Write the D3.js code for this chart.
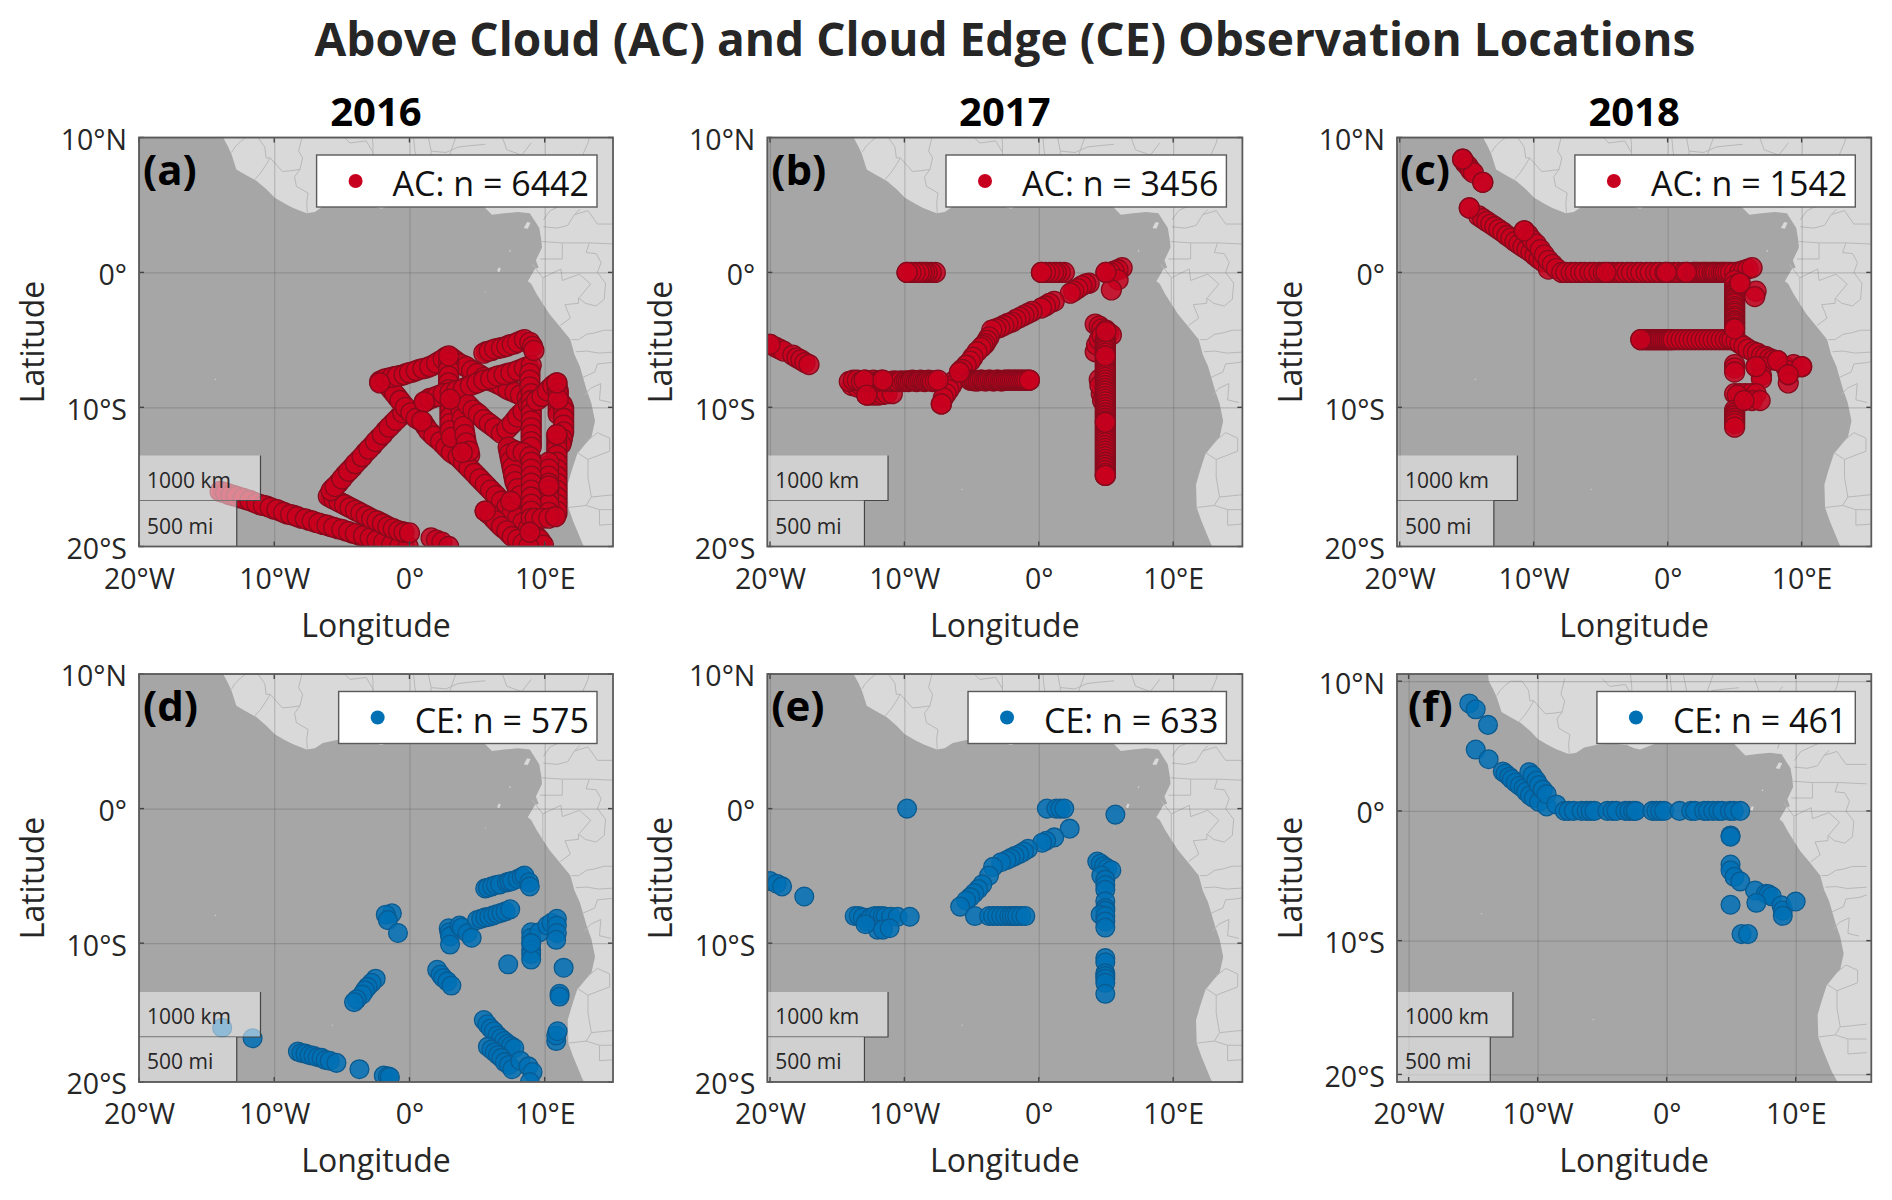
<!DOCTYPE html>
<html>
<head>
<meta charset="utf-8">
<script src="https://cdn.jsdelivr.net/npm/d3@7"></script>
<style>
  body { margin: 0; background: #fff; }
  text { font-family: "Open Sans", sans-serif; fill: #262626; }
  .tick text { font-size: 28.5px; }
  .axislabel { font-size: 32px; }
  .year { font-size: 40px; font-weight: 700; fill: #000; }
  .letter { font-size: 42px; font-weight: 700; fill: #000; }
  .legendtext { font-size: 34px; fill: #111; }
  .scaletext { font-size: 21px; }
</style>
</head>
<body>
<div id="chart"></div>
<script>
const lonTicks = [-20, -10, 0, 10];
const lonLabels = ['20°W', '10°W', '0°', '10°E'];
const latTicks = [10, 0, -10, -20];
const latLabels = ['10°N', '0°', '10°S', '20°S'];

// land outline, closed off outside the map window
const coast = [[-13.9,11],[-13.78,10],[-13.4,9.3],[-13.16,8.76],[-12.8,7.65],[-12.2,7.3],[-11.3,6.8],[-10.6,6.2],[-9.96,5.55],[-9.2,5.1],[-8.6,4.8],[-7.6,4.4],[-7,4.5],[-6.4,4.9],[-5.2,5.15],[-4,5.2],[-3.1,5.1],[-2.5,4.85],[-2.05,4.75],[-1,5.15],[0,5.6],[1.2,6.1],[2.5,6.3],[4,6.4],[4.6,5.95],[5.4,5],[6.1,4.3],[7,4.4],[8,4.5],[8.9,4.4],[9.6,3.3],[9.75,2.4],[9.8,1.85],[9.35,0.9],[9.55,0.35],[9.3,0.3],[8.75,-0.65],[9.0,-0.85],[9.4,-1.6],[10.35,-3.1],[11.1,-4],[11.9,-5],[12.2,-6.1],[12.6,-7],[13.1,-8.7],[13.45,-9.7],[13.72,-11],[13.45,-12.2],[13.07,-12.6],[12.4,-13.4],[12,-14.6],[11.7,-15.6],[11.75,-17.25],[12.1,-18.2],[12.8,-19.8],[13.4,-20.8],[13.8,-21.5],[17,-21.5],[17,11]];
const islands = [
  [[8.45,3.3],[8.7,3.75],[8.95,3.7],[8.75,3.25]],
  [[7.35,1.55],[7.45,1.7],[7.48,1.55]],
  [[6.48,0.1],[6.6,0.38],[6.75,0.3],[6.65,0.02]],
  [[5.58,-1.48],[5.62,-1.38],[5.66,-1.45]],
  [[-14.42,-7.98],[-14.35,-7.88],[-14.28,-7.96]],
  [[-5.76,-16],[-5.7,-15.9],[-5.64,-15.98]]
];
const borders = [
  [[-13.16,8.9],[-12.9,9.3],[-12.5,9.7],[-12.1,10],[-11.2,10],[-10.7,9.3],[-10.6,8.5],[-10.3,8.5]],
  [[-11.44,6.9],[-11,7.4],[-10.6,8],[-10.3,8.5]],
  [[-10.3,8.5],[-9.4,7.5],[-8.8,7.55],[-8.1,7.65]],
  [[-7.55,4.4],[-7.6,5.2],[-7.5,5.9],[-8.36,6.4],[-8.5,7.1],[-8.1,7.65],[-7.9,8.5],[-8.2,9.0],[-7.9,10.2]],
  [[-5,10.2],[-4.4,9.6],[-3.2,9.75],[-2.7,8.9],[-2.6,8]],
  [[-3.1,5.1],[-2.8,5.7],[-3.2,6.8],[-2.7,8],[-2.7,9.5],[-2.8,10.5]],
  [[1.2,6.1],[0.55,6.9],[0.6,8],[0.4,9],[0.26,10.5]],
  [[1.6,6.2],[1.6,7],[1.6,9],[1.3,10.5]],
  [[2.7,6.4],[2.7,7.9],[3.1,9.1],[3.6,10.5]],
  [[1.6,9],[2.7,8.9],[3.6,9.3],[4.5,9.4],[5.6,9.5]],
  [[6.8,10.2],[7.2,9.1],[8.3,8.7],[9,9.6]],
  [[8.6,4.8],[8.9,5.8],[9.8,6.8],[10.6,7],[11.4,6.5],[11.8,7.2],[12.2,8.3],[12.8,8.7],[13.2,9.6],[13.4,10.5]],
  [[9.9,3.4],[10.9,3.3],[11.7,3.5],[12.2,4.3],[12.6,4.7]],
  [[12.2,4.3],[13.2,4.6],[13.9,3.6],[15.5,3.6]],
  [[13.9,5.9],[12.5,5.6],[11.5,5.1],[10.4,4.6],[9.9,3.9]],
  [[9.8,2.3],[11.3,2.2],[13.3,2.2],[15.5,2.1]],
  [[11.3,2.2],[11.3,1],[9.65,1]],
  [[13.3,2.2],[13.06,1.48],[13.8,1.4],[14.17,0.74],[13.9,0],[14.2,-0.4],[14.5,-0.8],[14.4,-2],[13.8,-2.5],[13,-2.3],[12.5,-1.9],[12.5,-2.3],[11.5,-2.4],[11.9,-3.4],[11.15,-3.95]],
  [[9.1,0.6],[9.86,-0.4],[11.2,0.25],[11.3,-0.6],[12.57,-0.13],[13.4,-0.87],[12.57,-1.86]],
  [[9.86,-0.4],[9.86,-2.36]],
  [[12,-5],[12.5,-5],[13.1,-4.6],[13.7,-4.5],[14.4,-4.3],[15.5,-4.3]],
  [[12.3,-5.9],[13.1,-5.85],[14,-6],[15.5,-5.9]],
  [[12.8,-7.8],[13.7,-7.4],[13.9,-6.8],[14.9,-6.7],[15.5,-6.5]],
  [[12.95,-9.1],[13.4,-8.6],[14.15,-8.25],[14.05,-9.45],[14.9,-9.65]],
  [[13.2,-12.4],[13.9,-11.85],[14.8,-12.25],[14.8,-13.2],[13.2,-13.8],[12.4,-13.3]],
  [[13.2,-13.8],[13.2,-15.1],[13.45,-16.5],[13.06,-17.1]],
  [[13.45,-16.5],[15.5,-16.3]],
  [[11.75,-17.25],[13.06,-17.1],[14.05,-17.4],[15.5,-17.4]],
  [[14.05,-17.4],[14.05,-18.5],[15.5,-18.4]]
];

const acPoints2016 = [
  [-13.8,-16.15],[-13.4,-16.3],[-13,-16.4],[-12.55,-16.55],[-12.05,-16.7],[-11.55,-16.85],[-11.05,-17.05],[-10.55,-17.15],[-10.05,-17.35],[-9.55,-17.5],[-9.05,-17.7],[-8.55,-17.8],[-8,-18],[-7.45,-18.15],[-6.95,-18.3],[-6.4,-18.45],[-5.85,-18.6],[-5.3,-18.75],[-4.75,-18.9],[-4.25,-19.05],[-3.7,-19.2],[-3.15,-19.35],[-2.65,-19.5],[-2.15,-19.65],[-1.6,-19.8],[-1,-19.9],[-0.4,-20],
  [-5.8,-16.55],[-5.4,-16.75],[-5,-16.95],[-4.6,-17.15],[-4.2,-17.35],[-3.8,-17.55],[-3.4,-17.75],[-3,-17.95],[-2.6,-18.15],[-2.2,-18.3],[-1.8,-18.5],[-1.4,-18.7],[-1,-18.85],[-0.6,-18.95],
  [-5.65,-15.9],[-5.25,-15.5],[-4.75,-14.9],[-4.25,-14.4],[-3.75,-13.85],[-3.25,-13.3],[-2.75,-12.8],[-2.25,-12.25],[-1.75,-11.7],[-1.25,-11.2],[-0.75,-10.7],[-0.35,-10.25],
  [-1.6,-8.3],[-1.3,-8.75],[-0.9,-9.25],[-0.5,-9.75],[-0.1,-10.2],[0.3,-10.6],[0.75,-10.95],[1.2,-11.4],[1.6,-11.9],[2.05,-12.3],[2.5,-12.7],[2.9,-13.1],[3.35,-13.45],[3.8,-13.8],[4.2,-14.2],[4.6,-14.6],[5,-15],[5.4,-15.4],[5.8,-15.8],[6.2,-16.2],[6.6,-16.6],[7,-17],[7.4,-17.4],[7.8,-17.8],[8.2,-18.15],[8.6,-18.5],[9,-18.9],[9.4,-19.3],[9.75,-19.7],
  [-2,-8],[-1.55,-7.85],[-1.1,-7.75],[-0.65,-7.65],[-0.2,-7.5],[0.25,-7.4],[0.75,-7.2],[1.25,-7.1],[1.75,-6.9],[2.25,-6.6],[2.7,-6.3],
  [3.1,-6.35],[3.5,-6.65],[3.95,-6.9],[4.4,-7.15],[4.8,-7.4],[5.25,-7.65],[5.7,-7.9],[6.15,-8.1],[6.6,-8.3],[7.05,-8.55],[7.55,-8.8],[8,-9],[8.45,-9.2],
  [2.9,-6.45],[2.9,-6.95],[2.9,-7.45],[2.9,-7.95],[2.9,-8.45],[2.95,-8.95],[3,-9.45],[3,-9.95],[3,-10.45],[3,-10.95],[3,-11.45],[3.05,-11.95],
  [3.65,-9.3],[3.75,-9.9],[3.85,-10.5],[3.95,-11.1],[4.05,-11.7],[4.15,-12.3],[4.3,-12.9],[4.45,-13.5],
  [1.3,-9.5],[1.75,-9.3],[2.25,-9.1],[2.75,-8.95],[3.25,-8.8],[3.75,-8.7],[4.25,-8.5],[4.75,-8.3],[5.25,-8.1],[5.75,-7.95],[6.25,-7.8],[6.75,-7.65],[7.25,-7.5],[7.75,-7.4],[8.25,-7.2],[8.75,-7],
  [5.7,-5.9],[6.1,-5.8],[6.55,-5.65],[7,-5.55],[7.4,-5.4],[7.8,-5.3],[8.25,-5.1],
  [4.5,-10],[4.9,-10.35],[5.3,-10.7],[5.7,-11.05],[6.1,-11.35],[6.55,-11.7],[7,-11.75],[7.4,-11.4],[7.8,-10.95],[8.2,-10.5],[8.6,-10.05],[9,-9.6],
  [8.9,-7.25],[8.9,-7.75],[8.9,-8.25],[8.95,-8.75],[9,-9.25],[9,-9.75],[9,-10.25],[9,-10.75],[9,-11.25],[9,-11.75],[9,-12.25],[9,-12.7],
  [9.6,-9.35],[10,-9],[10.4,-8.6],[10.75,-8.3],[11,-8.8],[11,-9.25],[11,-9.75],[11,-10.25],[11.4,-10.05],[11.4,-10.55],[11.4,-11.05],[11.4,-11.55],[11.35,-12.05],[11.25,-12.5],
  [10.9,-12.25],[10.9,-12.75],[10.9,-13.25],[10.9,-13.75],[10.9,-14.25],[10.9,-14.75],[10.9,-15.25],[10.9,-15.75],[10.9,-16.25],[10.9,-16.75],[10.9,-17.25],[10.9,-17.7],
  [10.3,-14.25],[10.3,-14.75],[10.3,-15.25],[10.3,-15.75],[10.3,-16.25],[10.3,-16.75],[10.3,-17.3],[10.3,-17.8],
  [7.35,-13.15],[7.45,-13.65],[7.55,-14.15],[7.65,-14.65],[7.75,-15.15],[7.9,-15.65],[8.1,-16.15],[7.65,-13.1],[8.15,-13.25],[8.65,-13.45],
  [9,-13.8],[9,-14.25],[9,-14.75],[9,-15.25],[9,-15.75],[9,-16.25],[9,-16.75],[9,-17.25],[9,-17.75],
  [5.8,-17.65],[6.2,-18],[6.6,-18.4],[7,-18.75],[7.4,-19.1],[7.8,-19.4],[8.2,-19.65],[8.6,-19.9],
  [-14,-16.1],[-13.6,-16.2],[-13.2,-16.35],[-12.8,-16.45],[-12.3,-16.6],[-11.8,-16.75],[-11.3,-16.95],[-10.8,-17.1],[-10.3,-17.25],[-9.8,-17.4],[-9.3,-17.6],[-8.8,-17.75],[-8.3,-17.9],[-7.7,-18.05],[-7.2,-18.2],[-6.7,-18.35],[-6.1,-18.5],[-5.6,-18.65],[-5,-18.8],[-4.5,-18.95],[-4,-19.1],[-3.4,-19.25],[-2.9,-19.4],[-2.4,-19.55],[-1.9,-19.7],[-1.3,-19.85],[-0.7,-19.95],[-0.1,-20],
  [-6,-16.45],[-5.6,-16.65],[-5.2,-16.85],[-4.8,-17.05],[-4.4,-17.25],[-4,-17.45],[-3.6,-17.65],[-3.2,-17.85],[-2.8,-18.05],[-2.4,-18.2],[-2,-18.4],[-1.6,-18.6],[-1.2,-18.75],[-0.8,-18.9],[-0.4,-19],[0,-19.05],
  [-5.8,-16.05],[-5.5,-15.75],[-5,-15.2],[-4.5,-14.65],[-4,-14.1],[-3.5,-13.6],[-3,-13.05],[-2.5,-12.5],[-2,-12],[-1.5,-11.45],[-1,-10.95],[-0.5,-10.4],[-0.2,-10.1],
  [-1.75,-8.05],[-1.5,-8.5],[-1.1,-9],[-0.7,-9.5],[-0.3,-10],[0.1,-10.4],[0.5,-10.8],[1,-11.1],[1.4,-11.7],[1.8,-12.1],[2.3,-12.5],[2.7,-12.9],[3.1,-13.3],[3.6,-13.6],[4,-14],[4.4,-14.4],[4.8,-14.8],[5.2,-15.2],[5.6,-15.6],[6,-16],[6.4,-16.4],[6.8,-16.8],[7.2,-17.2],[7.6,-17.6],[8,-18],[8.4,-18.3],[8.8,-18.7],[9.2,-19.1],[9.6,-19.5],[9.9,-19.9],
  [-2.2,-8.1],[-1.8,-7.9],[-1.3,-7.8],[-0.9,-7.7],[-0.4,-7.6],[0,-7.45],[0.5,-7.3],[1,-7.15],[1.5,-7],[2,-6.75],[2.5,-6.45],
  [3.3,-6.5],[3.7,-6.8],[4.2,-7],[4.6,-7.3],[5,-7.5],[5.5,-7.8],[5.9,-8],[6.4,-8.2],[6.8,-8.4],[7.3,-8.7],[7.8,-8.9],[8.2,-9.1],[8.7,-9.3],
  [2.9,-6.7],[2.9,-7.2],[2.9,-7.7],[2.9,-8.2],[2.9,-8.7],[3,-9.2],[3,-9.7],[3,-10.2],[3,-10.7],[3,-11.2],[3,-11.7],[3.1,-12.2],
  [3.6,-9],[3.7,-9.6],[3.8,-10.2],[3.9,-10.8],[4,-11.4],[4.1,-12],[4.2,-12.6],[4.4,-13.2],
  [1.1,-9.6],[1.5,-9.35],[2,-9.2],[2.5,-9],[3,-8.9],[3.5,-8.75],[4,-8.6],[4.5,-8.4],[5,-8.2],[5.5,-8],[6,-7.9],[6.5,-7.7],[7,-7.6],[7.5,-7.45],[8,-7.3],[8.5,-7.1],[9,-6.9],
  [5.5,-6],[5.9,-5.85],[6.3,-5.7],[6.8,-5.6],[7.2,-5.5],[7.6,-5.35],[8,-5.2],[8.5,-5],[8.9,-5.2],[9.1,-5.5],[9.2,-5.8],
  [4.3,-9.8],[4.7,-10.2],[5.1,-10.5],[5.5,-10.9],[5.9,-11.2],[6.3,-11.5],[6.8,-11.9],[7.2,-11.6],[7.6,-11.2],[8,-10.7],[8.4,-10.3],[8.8,-9.8],[9.2,-9.4],
  [8.9,-7.5],[8.9,-8],[8.9,-8.5],[9,-9],[9,-9.5],[9,-10],[9,-10.5],[9,-11],[9,-11.5],[9,-12],[9,-12.5],[9,-12.9],
  [9.4,-9.5],[9.8,-9.2],[10.2,-8.8],[10.6,-8.4],[10.9,-8.2],[10.95,-8.6],[11,-9],[11,-9.5],[11,-10],[11,-10.5],[11.3,-9.8],[11.4,-10.3],[11.4,-10.8],[11.4,-11.3],[11.4,-11.8],[11.3,-12.3],[11.2,-12.7],
  [10.9,-12],[10.9,-12.5],[10.9,-13],[10.9,-13.5],[10.9,-14],[10.9,-14.5],[10.9,-15],[10.9,-15.5],[10.9,-16],[10.9,-16.5],[10.9,-17],[10.9,-17.5],
  [10.3,-14],[10.3,-14.5],[10.3,-15],[10.3,-15.5],[10.3,-16],[10.3,-16.5],[10.3,-17],[10.3,-17.6],
  [7.3,-12.9],[7.4,-13.4],[7.5,-13.9],[7.6,-14.4],[7.7,-14.9],[7.8,-15.4],[8,-15.9],[8.2,-16.4],[7.9,-13.2],[8.4,-13.3],[8.9,-13.6],
  [9,-14],[9,-14.5],[9,-15],[9,-15.5],[9,-16],[9,-16.5],[9,-17],[9,-17.5],[9,-18],
  [9.3,-18],[9.8,-18],[10.3,-18],[10.8,-17.9],
  [5.6,-17.5],[6,-17.8],[6.4,-18.2],[6.8,-18.6],[7.2,-18.9],[7.6,-19.3],[8,-19.5],[8.4,-19.8],[8.8,-20],
  [1.6,-19.4],[2,-19.55],[2.4,-19.7],[2.9,-20],
  [-2.2,-8.2],[2.9,-6.2],[1.1,-9.6],[3,-9.4],[7.5,-16.8],[8.9,-19],[5.6,-17.5],[10.3,-15.7],[10.9,-12],[0.9,-11],[3.9,-13.3],[11,-9.4],[10.9,-8.2]
];
const acPoints2017 = [
  [-20,-5.35],[-19.6,-5.55],[-19.3,-5.7],[-19,-5.85],[-18.3,-6.15],[-18,-6.35],[-17.7,-6.5],[-17.4,-6.7],[-17.1,-6.85],
  [-7.7,0],[-8,0],[-8.3,0],[-8.5,0],[-8.7,0],[-8.9,0],[-9.2,0],[-9.5,0],[-9.8,0],
  [1.9,0],[1.6,0],[1.3,0],[1.1,0],[0.8,0],[0.5,0],[0.2,0],
  [6.2,0.35],[5.9,0.2],[5.6,0.1],[5.3,0],[5,0],[5.9,-0.55],[5.4,-1.3],
  [3.75,-0.8],[3.5,-0.85],[3.2,-1],[2.9,-1.2],[2.6,-1.4],[2.35,-1.55],
  [1.15,-2.15],[0.8,-2.3],[0.5,-2.5],[0.2,-2.65],
  [-0.5,-2.9],[-0.8,-3.05],[-1.1,-3.2],[-1.4,-3.35],[-1.7,-3.5],[-2,-3.7],[-2.3,-3.8],[-2.6,-3.95],[-2.9,-4.1],[-3.2,-4.2],[-3.5,-4.3],
  [-3.7,-4.8],[-3.85,-5.05],[-4,-5.3],[-4.15,-5.45],[-4.3,-5.6],[-4.6,-5.9],[-4.9,-6.3],[-5.1,-6.6],[-5.4,-6.9],[-5.7,-7.2],[-5.9,-7.45],
  [-6.35,-8.1],[-6.5,-8.4],[-6.7,-8.7],[-6.9,-9],[-7.1,-9.3],[-7.25,-9.75],
  [-13.9,-8.4],[-13.5,-8.5],[-13.2,-8.4],[-12.8,-9.1],[-12.5,-9.1],[-12.2,-9.1],[-11.9,-9.1],[-11.6,-9.05],[-11.3,-9],[-10.9,-9],
  [-14.1,-8.1],[-13.8,-8],[-13.5,-8],[-13.2,-8.1],[-12.9,-8],[-12.6,-8.1],[-12.3,-8],[-12,-8.1],[-11.7,-8],[-11.4,-8.1],[-11,-8.1],[-10.75,-8.05],[-10.5,-8.1],[-10.25,-8.05],[-10,-8.1],[-9.85,-8.05],[-9.7,-8.1],[-9.55,-8.05],[-9.4,-8],[-9.25,-8.05],[-9.1,-8.1],[-8.95,-8.05],[-8.8,-8],[-8.65,-8.05],[-8.5,-8.1],[-8.35,-8.05],[-8.2,-8],[-8.05,-8.05],[-7.9,-8.1],[-7.7,-8.05],
  [-5.1,-8],[-4.95,-8],[-4.8,-8.05],[-4.65,-8.05],[-4.5,-8.05],[-4.35,-8],[-4.2,-8],[-4.05,-8.05],[-3.9,-8.05],[-3.75,-8],[-3.6,-8],[-3.45,-8.05],[-3.3,-8.05],[-3.15,-8],[-3,-8],[-2.85,-8.05],[-2.7,-8.05],[-2.55,-8],[-2.4,-8],[-2.25,-8],[-2.1,-8],[-1.95,-8],[-1.8,-8],[-1.65,-8],[-1.5,-8],[-1.35,-8],[-1.2,-8],[-1.05,-8],[-0.9,-8],[-0.7,-8],
  [4.2,-3.85],[4.5,-4],[4.7,-4.2],[5,-4.3],[5.2,-4.5],[5.4,-4.65],[4.2,-5.9],[4.3,-5.4],[4.5,-5],[4.7,-4.7],[4.5,-7.95],[4.65,-9],[4.55,-8.4],[4.75,-9.5],
  [4.95,-5],[4.95,-5.2],[4.95,-5.4],[4.95,-5.6],[4.95,-5.8],[4.95,-6],[4.95,-6.2],[4.95,-6.4],[4.95,-6.6],[4.95,-6.8],[4.95,-7],[4.95,-7.2],[4.95,-7.4],[4.95,-7.6],[4.95,-7.8],[4.95,-8],[4.95,-8.2],[4.95,-8.4],[4.95,-8.6],[4.95,-8.8],[4.95,-9],[4.95,-9.2],[4.95,-9.4],[4.95,-9.6],[4.95,-9.8],[4.95,-10],[4.95,-10.2],[4.95,-10.4],[4.95,-10.6],[4.95,-10.8],[4.95,-11],[4.95,-11.2],[4.95,-11.4],[4.95,-11.6],[4.95,-11.8],[4.95,-12],[4.95,-12.2],[4.95,-12.4],[4.95,-12.6],[4.95,-12.8],[4.95,-13],[4.95,-13.2],[4.95,-13.4],[4.95,-13.6],[4.95,-13.8],[4.95,-14],[4.95,-14.2],[4.95,-14.4],[4.95,-14.6],[4.95,-14.8],[4.95,-14.95],
  [-13,-8],[-11.6,-8],[-7.5,-8],[-9.8,0],[0.2,0],[5,0],[4.95,-11.1],[4.95,-6.2],[5,-4.4],[4.95,-14.95],[-5.9,-7.4],[-7.25,-9.75],[-20,-5.35],[-12.8,-9.1],[-0.7,-8]
];
const acPoints2018 = [
  [-15.3,8.4],[-15.1,8.1],[-14.9,7.9],[-14.7,7.6],[-14.5,7.4],[-13.8,6.7],[-14.8,4.8],
  [-14.1,4.2],[-13.8,4],[-13.5,3.8],[-13.2,3.6],[-12.9,3.4],[-12.6,3.2],[-12.3,3],[-12,2.75],[-11.7,2.55],[-11.4,2.3],[-11.1,2.1],[-10.8,1.9],[-10.5,1.7],[-10.2,1.5],[-9.9,1.25],[-9.6,1],[-9.3,0.8],[-8.9,0.25],
  [-10.7,3.1],[-10.4,2.8],[-10.1,2.4],[-9.8,2.1],[-9.5,1.7],[-9.2,1.3],[-8.9,0.9],[-8.6,0.6],[-8.3,0.3],
  [-7.9,0],[-7.6,0],[-7.2,0],[-6.9,0],[-6.5,0],[-6.2,0],[-5.8,0],[-5.5,0],[-5.1,0],[-4.8,0],[-4.4,0],[-4.1,0],[-3.7,0],[-3.4,0],[-3,0],[-2.7,0],[-2.3,0],[-2,0],[-1.6,0],[-1.3,0],[-0.9,0],[-0.6,0],[-0.2,0],[0.1,0],[0.5,0],[0.8,0],[1.2,0],[1.5,0],[1.9,0],[2.05,0],[2.2,0],[2.4,0],[2.6,0],[2.75,0],[2.9,0],[3.1,0],[3.3,0],[3.45,0],[3.6,0],[3.8,0],[4,0],[4.15,0],[4.3,0],[4.5,0],[4.7,0],[5,0],[5.4,0.05],[5.7,0.15],[6,0.25],[6.3,0.35],
  [5,-0.6],[5,-0.95],[5,-1.3],[5,-1.5],[5,-1.65],[5,-1.85],[5,-2],[5,-2.2],[5,-2.35],[5,-2.55],[5,-2.7],[5,-2.9],[5,-3.05],[5,-3.25],[5,-3.4],[5,-3.6],[5,-3.75],[5,-3.9],[5,-4.1],[5,-4.45],[5,-4.8],[5.4,-0.8],
  [6.6,-1.4],[6.5,-1.8],
  [-2,-5],[-1.7,-5],[-1.55,-5],[-1.4,-5],[-1.25,-5],[-1.1,-5],[-0.95,-5],[-0.8,-5],[-0.65,-5],[-0.5,-5],[-0.35,-5],[-0.2,-5],[-0.05,-5],[0.1,-5],[0.25,-5],[0.4,-5],[0.7,-5],[1,-5],[1.3,-5],[1.6,-5],[1.9,-5],[2.2,-5],[2.5,-5],[2.8,-5],[3.1,-5],[3.4,-5],[3.7,-5],[4,-5],[4.3,-5],[4.6,-5],[4.8,-5],
  [5.1,-5.1],[5.4,-5.3],[5.7,-5.5],[6,-5.7],[6.4,-5.9],[6.7,-6],[7,-6.2],[7.3,-6.25],[7.6,-6.4],[7.9,-6.5],[8.2,-6.55],
  [8.8,-7],[9.4,-6.85],[10,-7],[9,-7.3],[9,-7.6],[9,-8.2],
  [6.6,-7],[7,-7],[7,-7.65],[7,-7.9],[5,-6.85],[5,-7.1],[5,-7.4],
  [5,-9],[5.4,-9],[5.8,-9],[6.2,-9],[6.6,-9],[5.7,-9.5],[6.3,-9.5],[6.9,-9.5],[5.2,-9.1],
  [5,-10.2],[5,-10.4],[5,-10.6],[5,-10.8],[5,-11],[5,-11.2],[5,-11.45],
  [-10.7,3.1],[-14.8,4.8],[-13.8,6.7],[-2,-5],[1.4,0],[-0.1,0],[-4.6,0],[5,-4.2],[5.7,-9.5],[6.6,-7],[10,-7],[8.2,-6.55],[9,-7.6],[-15.3,8.4],[5.4,-0.8]
];
const cePoints2016 = [
  [-1.3,-7.8],[-1.75,-7.9],[-1.6,-8.3],[-0.85,-9.25],
  [2.9,-8.9],[2.95,-9.2],[3,-9.5],[3,-10.1],[3.7,-8.7],[3.85,-8.85],[4.3,-9.25],[4.6,-9.6],
  [5,-8.3],[5.3,-8.2],[5.6,-8.1],[5.9,-8.05],[6.2,-7.95],[6.5,-7.85],[6.8,-7.75],[7.1,-7.65],[7.45,-7.5],
  [5.6,-5.95],[5.8,-5.9],[6.1,-5.8],[6.4,-5.7],[6.7,-5.65],[7.2,-5.5],[7.4,-5.45],[7.6,-5.4],[8,-5.25],[8.3,-5.1],[8.5,-5],[8.85,-5.5],[8.9,-5.8],
  [9,-9.2],[9,-9.6],[9,-10],[9,-10.5],[9,-10.8],[9,-11.2],[9.6,-9.2],[10.2,-8.7],[10.5,-8.5],[10.9,-8.2],[10.9,-8.7],[10.9,-9.25],[10.85,-9.75],[9,-10],
  [11.4,-11.8],[11.1,-13.7],[11.1,-13.9],[10.85,-17.1],[10.85,-16.7],[10.95,-16.4],
  [7.3,-11.55],
  [2.05,-11.95],[2.3,-12.3],[2.5,-12.55],[2.8,-12.8],[3.1,-13.1],
  [-2.5,-12.6],[-2.8,-12.9],[-3.1,-13.2],[-3.3,-13.45],[-3.5,-13.75],[-3.9,-14.1],[-4.1,-14.3],
  [-13.85,-16.15],[-11.6,-16.9],
  [-8.25,-17.85],[-8,-17.95],[-7.7,-18],[-7.4,-18.1],[-7.1,-18.15],[-6.8,-18.25],[-6.5,-18.3],[-6.2,-18.45],[-5.9,-18.5],[-5.4,-18.65],
  [-3.7,-19.1],[-1.9,-19.55],[-1.6,-19.6],[-1.45,-19.65],
  [5.5,-15.6],[5.75,-15.9],[6,-16.2],[6.25,-16.4],[6.5,-16.7],[6.75,-16.9],[7,-17.1],[7.25,-17.3],[7.5,-17.45],[7.75,-17.6],
  [5.8,-17.5],[6.05,-17.7],[6.3,-17.9],[6.55,-18.1],[6.8,-18.3],[7.05,-18.6],[7.35,-18.8],[7.6,-19.1],
  [8.2,-18.5],[8.8,-18.9],[9.1,-19.3],[8.9,-20]
];
const cePoints2017 = [
  [-20,-5.4],[-19.5,-5.6],[-19.1,-5.8],[-17.45,-6.55],[-9.8,0],[0.6,0],[1.3,0],[1.6,0],[1.9,0],[5.7,-0.45],[2.3,-1.5],[1.15,-2.15],[0.55,-2.4],[0.25,-2.55],
  [-0.8,-3],[-1.1,-3.2],[-1.45,-3.4],[-1.8,-3.55],[-2.1,-3.7],[-2.4,-3.85],[-2.8,-4],[-3.4,-4.35],[-3.7,-5],[-4.2,-5.65],[-4.5,-6],[-4.8,-6.3],[-5.1,-6.6],[-5.4,-6.85],[-5.85,-7.3],
  [-13.7,-8],[-13.4,-8],[-13.1,-8.1],[-12.8,-8.4],[-12.5,-8.1],[-12.2,-8],[-11.9,-8],[-11.6,-8],[-11.4,-8.05],[-11,-8.05],[-10.5,-8.05],[-9.6,-8.05],
  [-12,-9],[-11.6,-9],[-11.1,-8.9],[-12.9,-8.6],
  [-4.75,-8],[-3.7,-8],[-3.4,-8],[-3.1,-8],[-2.8,-8],[-2.5,-8],[-2.2,-8],[-2,-8],[-1.8,-8],[-1.6,-8],[-1.3,-8],[-1,-8],
  [4.35,-3.95],[4.6,-4.1],[4.85,-4.3],[5.1,-4.45],[5.4,-4.6],[4.65,-5],[4.95,-5.3],[4.95,-5.7],[4.95,-6.05],[4.95,-6.9],[4.95,-7.4],[4.95,-7.6],[4.6,-7.9],[4.95,-8],[4.95,-8.4],[4.95,-8.85],
  [4.95,-11.1],[4.95,-11.4],[4.95,-12.2],[4.95,-12.4],[4.95,-12.6],[4.95,-12.9],[4.95,-13.7]
];
const cePoints2018 = [
  [-15.3,8.3],[-14.8,7.85],[-13.85,6.65],[-14.8,4.75],[-13.8,4],
  [-12.7,3.05],[-12.5,2.9],[-12.2,2.65],[-12,2.45],[-11.7,2.2],[-11.4,1.95],[-11.1,1.75],[-10.9,1.5],[-10.6,1.2],[-10.3,1],[-9.9,0.7],[-9.3,0.35],
  [-10.65,3],[-10.4,2.75],[-10.1,2.35],[-9.9,2],[-9.6,1.65],[-9.3,1.3],[-8.55,0.5],
  [-7.9,0],[-7.6,0],[-7.2,0],[-6.6,0],[-6.2,0],[-5.9,0],[-5.6,0],[-4.6,0],[-4.2,0],[-3.9,0],[-3.2,0],[-2.9,0],[-2.6,0],[-2.4,0],[-1.1,0],[-0.8,0],[-0.5,0],[-0.2,0],[1,0],[1.9,0],[2.2,0],[2.9,0],[3.2,0],[3.6,0],[4,0],[4.3,0],[4.9,0],[5.2,0],[5.7,0],
  [4.95,-1.9],[4.95,-2],[4.95,-4.15],[4.95,-4.6],[5.25,-5.1],[5.7,-5.45],
  [6.85,-6.15],[7.7,-6.4],[7.9,-6.45],[8.15,-6.6],[6.95,-7.1],[8.9,-7.3],[9,-7.7],[9,-8.1],[10,-7],[4.95,-7.25],[5.8,-9.5],[6.3,-9.5]
];

const panels = [
  { id: 'a', year: '2016', kind: 'AC', n: 6442, points: acPoints2016, left: 139, right: 613, top: 137.5, bottom: 546.5, lon: [-20, 15.05], lat: [-20, 10], dx: 4 },
  { id: 'b', year: '2017', kind: 'AC', n: 3456, points: acPoints2017, left: 767.3, right: 1242.4, top: 137.5, bottom: 546.5, lon: [-20.2, 15.15], lat: [-20, 10], dx: 4 },
  { id: 'c', year: '2018', kind: 'AC', n: 1542, points: acPoints2018, left: 1397, right: 1871.3, top: 137.5, bottom: 546.5, lon: [-20.2, 15.2], lat: [-20, 10], dx: 3 },
  { id: 'd', kind: 'CE', n: 575, points: cePoints2016, left: 139, right: 613, top: 674, bottom: 1082, lon: [-20, 15.05], lat: [-20, 10], dx: 4 },
  { id: 'e', kind: 'CE', n: 633, points: cePoints2017, left: 767.3, right: 1242.4, top: 674, bottom: 1082, lon: [-20.2, 15.15], lat: [-20, 10], dx: 4 },
  { id: 'f', kind: 'CE', n: 461, points: cePoints2018, left: 1397, right: 1871.3, top: 674, bottom: 1082, lon: [-20.9, 15.86], lat: [-20.55, 10.55], dx: 11 }
];

const colors = {
  AC: { fill: '#c8001f', edge: '#860a1c', r: 10 },
  CE: { fill: '#0070b5', edge: '#0a5a90', r: 9.4 }
};

const width = 1892, height = 1200;
const svg = d3.select('#chart').append('svg').attr('width', width).attr('height', height);

// mercator northing, the y axis of every map is linear in this
const merc = lat => d3.geoMercatorRaw(0, lat * Math.PI / 180)[1];

svg.append('text')
  .attr('x', 1005).attr('y', 56)
  .attr('text-anchor', 'middle')
  .attr('textLength', 1381).attr('lengthAdjust', 'spacingAndGlyphs')
  .style('font-size', '46px').style('font-weight', 700)
  .text('Above Cloud (AC) and Cloud Edge (CE) Observation Locations');

panels.forEach(drawPanel);

function drawPanel(p, i) {
  const w = p.right - p.left, h = p.bottom - p.top;
  const x = d3.scaleLinear().domain(p.lon).range([0, w]);
  const y = d3.scaleLinear().domain(p.lat.map(merc)).range([h, 0]);
  const latY = d => y(merc(d));
  const line = d3.line().x(d => x(d[0])).y(d => latY(d[1]));

  const g = svg.append('g').attr('transform', `translate(${p.left},${p.top})`);

  svg.append('clipPath').attr('id', 'clip' + i)
    .append('rect').attr('width', w).attr('height', h);

  const map = g.append('g').attr('clip-path', `url(#clip${i})`);
  map.append('rect').attr('width', w).attr('height', h).attr('fill', '#a6a6a6');
  map.append('path').attr('d', line(coast) + 'Z').attr('fill', '#d9d9d9');
  map.selectAll('path.island').data(islands).enter().append('path').attr('class', 'island')
    .attr('d', d => line(d) + 'Z').attr('fill', '#d9d9d9');
  map.selectAll('path.border').data(borders).enter().append('path').attr('class', 'border')
    .attr('d', line).attr('fill', 'none').attr('stroke', '#b8b8b8').attr('stroke-width', 1);

  // grid
  const gridX = map.append('g').call(d3.axisBottom(x).tickValues(lonTicks).tickSize(h).tickFormat(''));
  const gridY = map.append('g').call(d3.axisRight(y).tickValues(latTicks.map(merc)).tickSize(w).tickFormat(''));
  [gridX, gridY].forEach(a => {
    a.select('.domain').remove();
    a.selectAll('line').attr('stroke', '#5a5a5a').attr('stroke-opacity', 0.28).attr('stroke-width', 1.2);
  });

  // observations
  const c = colors[p.kind];
  map.selectAll('circle').data(p.points).enter().append('circle')
    .attr('cx', d => x(d[0])).attr('cy', d => latY(d[1])).attr('r', c.r)
    .attr('fill', c.fill).attr('fill-opacity', 0.85)
    .attr('stroke', c.edge).attr('stroke-width', 1.3);

  // scale bars sit above the tracks
  const degKm = 111.32;
  const bars = [{ label: '1000 km', km: 1000, y0: 318, y1: 363 }, { label: '500 mi', km: 804.7, y0: 363, y1: h }];
  bars.forEach(b => {
    const bw = x(p.lon[0] + b.km / degKm);
    map.append('rect').attr('y', b.y0).attr('width', bw).attr('height', b.y1 - b.y0)
      .attr('fill', '#f2f2f2').attr('fill-opacity', 0.55);
    map.append('path').attr('d', `M0,${b.y1}H${bw}V${b.y0}`)
      .attr('fill', 'none').attr('stroke', '#454545').attr('stroke-width', 1.2);
    g.append('text').attr('class', 'scaletext').attr('x', 8).attr('y', b.y1 - 13).text(b.label);
  });

  // little inward ticks on all four sides, then the box
  const ticks = g.append('g').attr('stroke', '#454545').attr('stroke-width', 1.4);
  lonTicks.forEach(t => {
    ticks.append('line').attr('x1', x(t)).attr('x2', x(t)).attr('y1', 0).attr('y2', 5);
    ticks.append('line').attr('x1', x(t)).attr('x2', x(t)).attr('y1', h).attr('y2', h - 5);
  });
  latTicks.forEach(t => {
    ticks.append('line').attr('y1', latY(t)).attr('y2', latY(t)).attr('x1', 0).attr('x2', 5);
    ticks.append('line').attr('y1', latY(t)).attr('y2', latY(t)).attr('x1', w).attr('x2', w - 5);
  });
  g.append('rect').attr('width', w).attr('height', h)
    .attr('fill', 'none').attr('stroke', '#5a5a5a').attr('stroke-width', 1.8);

  // tick labels
  const xAxis = g.append('g').attr('transform', `translate(0,${h})`)
    .call(d3.axisBottom(x).tickValues(lonTicks).tickSize(0).tickPadding(22).tickFormat((d, j) => lonLabels[j]));
  xAxis.select('.domain').remove();
  xAxis.selectAll('text').attr('fill', '#262626');

  const yAxis = g.append('g')
    .call(d3.axisLeft(y).tickValues(latTicks.map(merc)).tickSize(0).tickPadding(12).tickFormat((d, j) => latLabels[j]));
  yAxis.select('.domain').remove();
  yAxis.selectAll('text').attr('fill', '#262626').attr('dy', '0.42em');

  g.append('text').attr('class', 'axislabel').attr('text-anchor', 'middle')
    .attr('x', w / 2).attr('y', h + 90).text('Longitude');
  g.append('text').attr('class', 'axislabel').attr('text-anchor', 'middle')
    .attr('transform', `translate(-95,${h / 2}) rotate(-90)`).text('Latitude');

  if (p.year) {
    g.append('text').attr('class', 'year').attr('text-anchor', 'middle')
      .attr('x', w / 2).attr('y', -12).text(p.year);
  }

  // legend
  const boxRight = w - 16, boxTop = 17.5, boxH = 52;
  const legend = g.append('g');
  const box = legend.append('rect').attr('fill', '#fff').attr('stroke', '#5a5a5a').attr('stroke-width', 1.4);
  const label = legend.append('text').attr('class', 'legendtext').attr('text-anchor', 'end')
    .attr('x', boxRight - 8).attr('y', boxTop + 41).text(`${p.kind}: n = ${p.n}`);
  const textW = label.node().getComputedTextLength();
  const boxLeft = boxRight - 8 - textW - 76;
  box.attr('x', boxLeft).attr('y', boxTop).attr('width', boxRight - boxLeft).attr('height', boxH);
  legend.append('circle').attr('cx', boxLeft + 39).attr('cy', boxTop + 26).attr('r', 7)
    .attr('fill', c.fill);

  g.append('text').attr('class', 'letter').attr('x', p.dx).attr('y', 47).text(`(${p.id})`);
}
</script>
</body>
</html>
